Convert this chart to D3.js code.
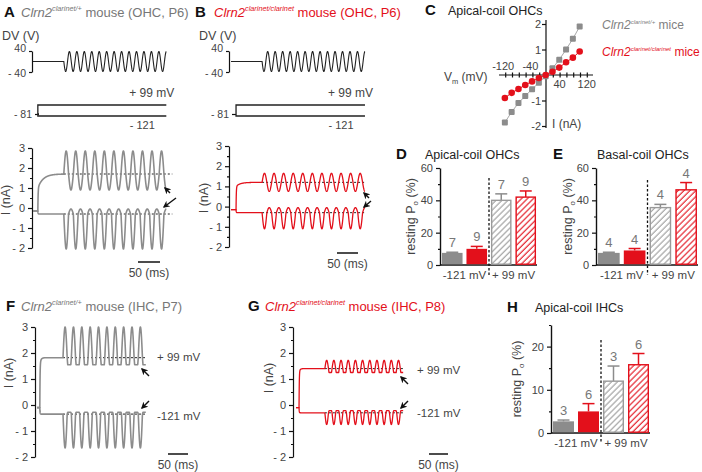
<!DOCTYPE html>
<html><head><meta charset="utf-8">
<script src="https://cdn.jsdelivr.net/npm/d3@7"></script>
<style>
body{margin:0;background:#fff}
svg text{font-family:"Liberation Sans",Arial,Helvetica,sans-serif}
</style>
</head><body>
<svg id="c" width="702" height="472"></svg>
<script>
// ---------------- DATA ----------------
const GRAY = "#8c8c8c", RED = "#e3101b", TXT = "#444", CNT = "#777";

// Panel C: I-V curves
const ivVoltages = [-121, -101, -81, -61, -41, -21, -1, 19, 39, 59, 79, 99];
const ivWT  = [-1.86, -1.45, -1.10, -0.82, -0.56, -0.30, -0.05, 0.26, 0.60, 1.00, 1.42, 1.90];
const ivMut = [-0.90, -0.70, -0.55, -0.39, -0.25, -0.12, 0.00, 0.13, 0.29, 0.50, 0.68, 0.92];

// Bar panels: order = [-121 WT, -121 mut, +99 WT, +99 mut]
const barCats = ["-121 WT", "-121 mut", "+99 WT", "+99 mut"];
const barFill = ["solidGray", "solidRed", "hatchGray", "hatchRed"];
const poApOHC = [7.5, 10.0, 40.0, 42.0];
const errApOHC = [0.4, 1.5, 4.0, 3.8];
const nApOHC = [7, 9, 7, 9];
const poBaOHC = [7.5, 9.0, 35.5, 46.5];
const errBaOHC = [0.4, 1.2, 2.0, 4.5];
const nBaOHC = [4, 4, 4, 4];
const poApIHC = [2.7, 5.0, 12.0, 15.8];
const errApIHC = [0.3, 1.8, 3.5, 2.6];
const nApIHC = [3, 6, 3, 6];
const barTicksOHC = [0, 20, 40, 60];
const barTicksIHC = [0, 10, 20];

// Current traces: protocol times (ms): [trace start, voltage step, sine on, end]
const protoA = [0, 11, 70, 303];
const protoB = [0, 12, 74, 319];
const protoF = [0, 7, 65, 272];
const protoG = [0, 8, 76, 282];
// levels (nA): [baseline, peak, trough]
const upA = [1.70, 2.85, 0.90], loA = [-0.30, -0.05, -2.05];
const upB = [1.20, 1.65, 0.75], loB = [-0.30, -0.05, -1.10];
const upF = [1.82, 3.00, 1.55], loF = [-0.35, -0.28, -1.65];
const upG = [1.40, 1.72, 1.25], loG = [-0.30, -0.22, -0.75];
const preLevel = [-0.15, -0.15, -0.10, -0.10];      // A, B, F, G before the step
const onsetJump = [1.0, 1.0, 1.6, 1.3];              // fast component level
const onsetTau = [12, 10, 3, 3];                     // slow time constant (ms)
const sineCycles = [10.75, 10.75, 9.9, 10.9];        // A, B, F, G
const saturation = [1, 1, 2.5, 2.2];                 // flattening of the small half-wave
const dvCycles = 13.75;
const currentTicks = [-2, -1, 0, 1, 2, 3];
const stepLevels = [-81, 99, -121];
const dvTicks = [-40, 40];
const ivXTicks = [-120, -40, 40, 120];
const ivYTicks = [-2, -1, 1, 2];

// ---------------- DRAWING ----------------
const svg = d3.select("#c");
const defs = svg.append("defs");
function hatch(id, color) {
  const p = defs.append("pattern").attr("id", id).attr("patternUnits", "userSpaceOnUse")
    .attr("width", 4.2).attr("height", 4.2).attr("patternTransform", "rotate(45)");
  p.append("rect").attr("width", 4.2).attr("height", 4.2).attr("fill", "#fff");
  p.append("line").attr("x1", 1).attr("y1", 0).attr("x2", 1).attr("y2", 4.2)
    .attr("stroke", color).attr("stroke-width", 1.1);
}
hatch("hg", "#9a9a9a"); hatch("hr", RED);
defs.append("marker").attr("id", "arr").attr("viewBox", "0 0 10 10").attr("refX", 8).attr("refY", 5)
  .attr("markerWidth", 5).attr("markerHeight", 5).attr("orient", "auto")
  .append("path").attr("d", "M0,0L10,5L0,10L3,5z").attr("fill", "#111");

function letter(x, y, t) {
  svg.append("text").attr("x", x).attr("y", y).attr("font-size", 15).attr("font-weight", "bold")
    .attr("fill", "#111").text(t);
}
function geno(x, y, sup, rest, color, fs, supR) {
  const r = supR || 0.56;
  const t = svg.append("text").attr("x", x).attr("y", y).attr("font-size", fs).attr("fill", color);
  t.append("tspan").attr("font-style", "italic").text("Clrn2");
  t.append("tspan").attr("font-style", "italic").attr("font-size", fs * r).attr("dy", -fs * 0.45).text(sup);
  t.append("tspan").attr("dy", fs * 0.45).text(rest);
}
function plainText(x, y, t, opts = {}) {
  return svg.append("text").attr("x", x).attr("y", y).attr("font-size", opts.fs || 11)
    .attr("fill", opts.fill || TXT).attr("text-anchor", opts.anchor || "start").text(t);
}
function styleAxis(g, fs) {
  g.selectAll("path,line").attr("stroke", "#111").attr("stroke-width", 1.2);
  g.selectAll("text").attr("font-size", fs || 11).attr("fill", TXT)
    .attr("font-family", "Liberation Sans, Arial, sans-serif");
}
function fmtCur(d) { return d < 0 ? "- " + (-d) : "" + d; }

// generic current trace
function makeTrace(proto, lv, pre, jump, tau, cycles, sat, upper) {
  const [t0, tS, tOn, tE] = proto;
  const [base, peak, trough] = lv;
  const P = (tE - tOn) / cycles;
  const pts = [];
  for (let t = t0; t <= tE + 1e-6; t += 0.25) {
    let v;
    if (t < tS) v = pre;
    else if (t < tOn) {
      const dt = t - tS;
      if (upper) v = pre + (jump - pre) * (1 - Math.exp(-dt / 0.6)) + (base - jump) * (1 - Math.exp(-dt / tau)) * (1 - Math.exp(-dt / 0.6));
      else v = pre + (base - pre) * (1 - Math.exp(-dt / 0.5));
    } else {
      const s = Math.sin(2 * Math.PI * (t - tOn) / P);
      if (upper) v = s >= 0 ? base + (peak - base) * s : base - (base - trough) * Math.min(1, sat * -s);
      else v = s >= 0 ? base - (base - trough) * s : base + (peak - base) * Math.min(1, sat * -s);
    }
    pts.push([t, v]);
  }
  return pts;
}

function currentPanel(cfg) {
  const { x0, k, axX, yTop, yBot, proto, up, lo, idx, color, sw } = cfg;
  const x = d3.scaleLinear().domain([0, proto[3]]).range([x0, x0 + k * proto[3]]);
  const y = d3.scaleLinear().domain([-2, 3]).range([yBot, yTop]);
  const ax = svg.append("g").attr("transform", `translate(${axX},0)`)
    .call(d3.axisLeft(y).tickValues(currentTicks).tickSize(4).tickSizeOuter(0).tickFormat(fmtCur));
  styleAxis(ax);
  const minor = svg.append("g").attr("transform", `translate(${axX},0)`)
    .call(d3.axisLeft(y).tickValues([-1.5, -0.5, 0.5, 1.5, 2.5]).tickSize(2).tickFormat(""));
  minor.select(".domain").remove(); styleAxis(minor);
  svg.append("text").attr("transform", `translate(${cfg.labX},${cfg.labY}) rotate(-90)`)
    .attr("text-anchor", "middle").attr("font-size", 12.5).attr("fill", TXT).text("I (nA)");
  const line = d3.line().x(d => x(d[0])).y(d => y(d[1]));
  // dashed baselines
  [up[0], lo[0]].forEach(b => {
    svg.append("line").attr("x1", x(proto[2])).attr("x2", x(proto[3]) + (cfg.dashExt || 0))
      .attr("y1", y(b)).attr("y2", y(b)).attr("stroke", "#222").attr("stroke-width", 1)
      .attr("stroke-dasharray", "2,2");
  });
  [true, false].forEach(u => {
    const pts = makeTrace(proto, u ? up : lo, preLevel[idx], onsetJump[idx], onsetTau[idx],
      sineCycles[idx], saturation[idx], u);
    svg.append("path").attr("d", line(pts)).attr("fill", "none").attr("stroke", color)
      .attr("stroke-width", sw).attr("stroke-linejoin", "round");
  });
  // scale bar 50 ms
  const sb = cfg.sb;
  svg.append("line").attr("x1", sb[0]).attr("x2", sb[0] + x(50) - x(0)).attr("y1", sb[1]).attr("y2", sb[1])
    .attr("stroke", "#111").attr("stroke-width", 1.5);
  plainText(sb[0] + (x(50) - x(0)) / 2, sb[1] + 15, "50 (ms)", { fs: 12, anchor: "middle" });
  return { x, y };
}

function arrow(x1, y1, x2, y2) {
  svg.append("line").attr("x1", x1).attr("y1", y1).attr("x2", x2).attr("y2", y2)
    .attr("stroke", "#111").attr("stroke-width", 1.4).attr("marker-end", "url(#arr)");
}

function dvPanel(cfg) {
  const { x, axX, proto } = cfg;
  const yV = d3.scaleLinear().domain([-40, 40]).range([72, 51]);
  const g = svg.append("g").attr("transform", `translate(${axX},0)`)
    .call(d3.axisLeft(yV).tickValues(dvTicks).tickSize(3).tickSizeOuter(0).tickFormat(d => d < 0 ? "- " + (-d) : d));
  styleAxis(g, 10.5);
  g.selectAll(".tick text").attr("dy", (d) => d > 0 ? "0.05em" : "0.45em");
  plainText(cfg.dvLab, 40, "DV (V)", { fs: 12.5 });
  const P = (proto[3] - proto[2]) / dvCycles;
  const pts = [];
  for (let t = 0; t <= proto[3] + 1e-6; t += 0.25) {
    pts.push([t, t < proto[2] ? 0 : -40 * Math.sin(2 * Math.PI * (t - proto[2]) / P) * 0.95]);
  }
  svg.append("path").attr("d", d3.line().x(d => x(d[0])).y(d => yV(d[1]))(pts))
    .attr("fill", "none").attr("stroke", "#222").attr("stroke-width", 1.1);
  // voltage step protocol
  const yS = d3.scaleLinear().domain([-121, 99]).range([116, 105]);
  const gs = svg.append("g").attr("transform", `translate(${cfg.stepAx},0)`)
    .call(d3.axisLeft(yS).tickValues([stepLevels[0]]).tickSize(4).tickSizeOuter(0).tickFormat(d => "- " + (-d)));
  gs.select(".domain").remove(); styleAxis(gs, 10.5);
  const xs = x(proto[1]);
  svg.append("path").attr("d", `M${cfg.stepAx},${yS(stepLevels[0])}H${xs}`).attr("stroke", "#222").attr("fill", "none").attr("stroke-width", 1.3);
  svg.append("path").attr("d", `M${x(proto[3])},${yS(stepLevels[1])}H${xs}V${yS(stepLevels[2])}H${x(proto[3])}`)
    .attr("stroke", "#222").attr("fill", "none").attr("stroke-width", 1.3);
  plainText(x(proto[3]) + 8, 97, "+ 99  mV", { fs: 12, anchor: "end" });
  plainText(x(proto[3]) - 24, 129, "- 121", { fs: 11, anchor: "middle" });
}

// ---------- Panel A ----------
letter(4, 17, "A");
geno(21, 17, "clarinet/+", " mouse (OHC, P6)", "#777", 13);
const pA = currentPanel({ x0: 33, k: 0.44, axX: 32, yTop: 148, yBot: 248, proto: protoA, up: upA, lo: loA,
  idx: 0, color: GRAY, sw: 1.6, labX: 10, labY: 200, sb: [138, 262], dashExt: 6 });
dvPanel({ x: pA.x, axX: 32, proto: protoA, dvLab: 2, stepAx: 39 });
arrow(170, 193, 165, 188);
arrow(176, 198, 164, 207);

// ---------- Panel B ----------
letter(195, 17, "B");
geno(214, 17, "clarinet/clarinet", " mouse (OHC, P6)", RED, 13);
const pB = currentPanel({ x0: 231, k: 0.42, axX: 229, yTop: 146, yBot: 247, proto: protoB, up: upB, lo: loB,
  idx: 1, color: RED, sw: 1.3, labX: 208, labY: 198, sb: [337, 253] });
dvPanel({ x: pB.x, axX: 229, proto: protoB, dvLab: 199, stepAx: 236 });
arrow(369, 198, 364, 193);
arrow(371, 201, 364, 207);

// ---------- Panel C ----------
letter(425, 15, "C");
plainText(448, 15, "Apical-coil OHCs", { fs: 12.5, fill: "#222" });
const xC = d3.scaleLinear().domain([-120, 120]).range([505.2, 586.8]);
const yC = d3.scaleLinear().domain([-2, 2]).range([126, 24]);
const gxC = svg.append("g").attr("transform", `translate(0,${yC(0)})`)
  .call(d3.axisBottom(xC).tickValues(d3.range(-120, 121, 20)).tickSize(2.5).tickSizeOuter(0).tickFormat(""));
gxC.selectAll(".tick line").attr("y1", -2.5);
gxC.select(".domain").attr("d", `M499,0H593`);
styleAxis(gxC);
ivXTicks.forEach(v => plainText(xC(v) - (v < 0 ? 2 : 0), v < 0 ? yC(0) - 5 : yC(0) + 13, v, { fs: 11, anchor: "middle" }));
const gyC = svg.append("g").attr("transform", `translate(${xC(0)},0)`)
  .call(d3.axisLeft(yC).tickValues(ivYTicks).tickSize(4).tickSizeOuter(0).tickFormat(d => d));
gyC.select(".domain").attr("d", `M0,20V128`);
styleAxis(gyC);
gyC.selectAll(".tick text").attr("x", -5);
const vl = svg.append("text").attr("x", 444).attr("y", 81).attr("font-size", 12).attr("fill", TXT);
vl.append("tspan").text("V"); vl.append("tspan").attr("font-size", 7.5).attr("dy", 3).text("m");
vl.append("tspan").attr("dy", -3).text(" (mV)");
plainText(552, 128, "I (nA)", { fs: 12 });
const ivLine = d3.line().x((d, i) => xC(ivVoltages[i])).y(d => yC(d));
svg.append("path").attr("d", ivLine(ivWT)).attr("fill", "none").attr("stroke", "#a8a8a8").attr("stroke-width", 1);
svg.append("path").attr("d", ivLine(ivMut)).attr("fill", "none").attr("stroke", RED).attr("stroke-width", 1);
svg.selectAll(".wt").data(ivWT).enter().append("rect")
  .attr("x", (d, i) => xC(ivVoltages[i]) - 3).attr("y", d => yC(d) - 3).attr("width", 6).attr("height", 6)
  .attr("rx", 1).attr("fill", GRAY);
svg.selectAll(".mu").data(ivMut).enter().append("circle")
  .attr("cx", (d, i) => xC(ivVoltages[i])).attr("cy", d => yC(d)).attr("r", 3.3).attr("fill", RED);
geno(602, 29, "clarinet/+", " mice", "#808080", 12, 0.5);
geno(602, 56, "clarinet/clarinet", " mice", RED, 12, 0.5);

// ---------- Bar panels ----------
function barPanel(cfg) {
  const { axX, xEnd, y0, yTop, max, vals, errs, ns, ticks, minors } = cfg;
  const x = d3.scaleBand().domain(barCats).range([axX + 1, xEnd]).paddingInner(0.16).paddingOuter(0.04);
  const y = d3.scaleLinear().domain([0, max]).range([y0, yTop]);
  letter(cfg.lx, cfg.ly, cfg.letter);
  plainText(cfg.tx, cfg.ly, cfg.title, { fs: 12.5, fill: "#222" });
  const ga = svg.append("g").attr("transform", `translate(${axX},0)`)
    .call(d3.axisLeft(y).tickValues(ticks).tickSize(4).tickSizeOuter(0));
  styleAxis(ga); ga.select(".domain").attr("stroke-width", 1.4);
  const gm = svg.append("g").attr("transform", `translate(${axX},0)`)
    .call(d3.axisLeft(y).tickValues(minors).tickSize(2).tickFormat(""));
  gm.select(".domain").remove(); styleAxis(gm);
  svg.append("line").attr("x1", axX).attr("x2", xEnd).attr("y1", y0).attr("y2", y0)
    .attr("stroke", "#111").attr("stroke-width", 1.6);
  const yl = svg.append("text").attr("transform", `translate(${cfg.ylx},${(y0 + yTop) / 2 + cfg.yloff}) rotate(-90)`)
    .attr("text-anchor", "middle").attr("font-size", 12.5).attr("fill", TXT);
  yl.append("tspan").text("resting P"); yl.append("tspan").attr("font-size", 8).attr("dy", 3).text("o");
  yl.append("tspan").attr("dy", -3).text(" (%)");
  const fills = { solidGray: "#8c8c8c", solidRed: RED, hatchGray: "url(#hg)", hatchRed: "url(#hr)" };
  const strokes = { solidGray: "none", solidRed: "none", hatchGray: "#9a9a9a", hatchRed: RED };
  const ecol = [GRAY, RED, "#8c8c8c", RED];
  barCats.forEach((c, i) => {
    const f = barFill[i], bw = x.bandwidth();
    const sw = strokes[f] === "none" ? 0 : 1.4;
    const cx = x(c) + bw / 2;
    svg.append("line").attr("x1", cx).attr("x2", cx).attr("y1", y(vals[i])).attr("y2", y(vals[i] + errs[i]))
      .attr("stroke", ecol[i]).attr("stroke-width", 1.5);
    svg.append("line").attr("x1", cx - 6).attr("x2", cx + 6).attr("y1", y(vals[i] + errs[i])).attr("y2", y(vals[i] + errs[i]))
      .attr("stroke", ecol[i]).attr("stroke-width", 1.5);
    svg.append("rect").attr("x", x(c) + sw / 2).attr("y", y(vals[i])).attr("width", bw - sw)
      .attr("height", y0 - y(vals[i]) - 0.8).attr("fill", fills[f]).attr("stroke", strokes[f]).attr("stroke-width", sw);
    plainText(cx, y(vals[i] + errs[i]) - 5, ns[i], { fs: 13, fill: CNT, anchor: "middle" });
  });
  const sep = (x(barCats[1]) + x.bandwidth() + x(barCats[2])) / 2;
  svg.append("line").attr("x1", sep).attr("x2", sep).attr("y1", cfg.sepTop).attr("y2", y0 + 10)
    .attr("stroke", "#111").attr("stroke-width", 1.3).attr("stroke-dasharray", "2.5,2");
  plainText((x(barCats[0]) + x(barCats[1]) + x.bandwidth()) / 2, y0 + 14, "-121 mV", { fs: 11.5, anchor: "middle" });
  plainText((x(barCats[2]) + x(barCats[3]) + x.bandwidth()) / 2, y0 + 14, "+ 99 mV", { fs: 11.5, anchor: "middle" });
}
barPanel({ letter: "D", lx: 396, ly: 159, tx: 425, title: "Apical-coil OHCs", axX: 440, xEnd: 537, y0: 265, yTop: 168,
  max: 60, vals: poApOHC, errs: errApOHC, ns: nApOHC, ticks: barTicksOHC, minors: [10, 30, 50], ylx: 415, yloff: 0, sepTop: 178 });
barPanel({ letter: "E", lx: 553, ly: 159, tx: 597, title: "Basal-coil OHCs", axX: 596, xEnd: 698, y0: 265, yTop: 168,
  max: 60, vals: poBaOHC, errs: errBaOHC, ns: nBaOHC, ticks: barTicksOHC, minors: [10, 30, 50], ylx: 572, yloff: 0, sepTop: 180 });
barPanel({ letter: "H", lx: 507, ly: 312, tx: 535, title: "Apical-coil IHCs", axX: 551, xEnd: 650, y0: 433, yTop: 325,
  max: 25, vals: poApIHC, errs: errApIHC, ns: nApIHC, ticks: barTicksIHC, minors: [5, 15, 25], ylx: 521, yloff: 0, sepTop: 340 });

// ---------- Panel F ----------
letter(6, 311, "F");
geno(21, 311, "clarinet/+", " mouse (IHC, P7)", "#777", 13);
currentPanel({ x0: 37, k: 0.40, axX: 35, yTop: 327, yBot: 457, proto: protoF, up: upF, lo: loF,
  idx: 2, color: GRAY, sw: 1.6, labX: 13, labY: 373, sb: [168, 454] });
plainText(157, 361, "+ 99 mV", { fs: 11.5 });
plainText(157, 420, "-121 mV", { fs: 11.5 });
arrow(149, 376, 142, 369);
arrow(149, 401, 142, 408);

// ---------- Panel G ----------
letter(248, 311, "G");
geno(265, 311, "clarinet/clarinet", " mouse (IHC, P8)", RED, 13);
currentPanel({ x0: 296, k: 0.38, axX: 293, yTop: 327, yBot: 457, proto: protoG, up: upG, lo: loG,
  idx: 3, color: RED, sw: 1.3, labX: 273, labY: 378, sb: [429, 454] });
plainText(417, 374, "+ 99 mV", { fs: 11.5 });
plainText(417, 417, "-121 mV", { fs: 11.5 });
arrow(408, 384, 401, 377);
arrow(408, 401, 401, 408);
</script>
</body></html>
